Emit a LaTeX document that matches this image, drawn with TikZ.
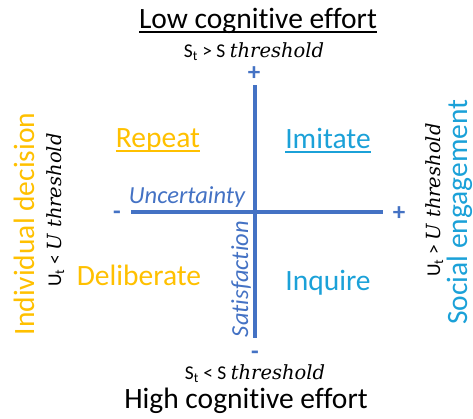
\documentclass[tikz,border=0pt]{standalone}
\usepackage{fontspec}
\setmainfont[Ligatures=NoCommon]{Carlito}
\newfontfamily\thrfont[ItalicFont={DejaVu Serif Italic}]{DejaVu Serif}
\newcommand{\ulbar}[1]{\setbox0\hbox{#1}\rlap{\copy0}\rule[-5pt]{\wd0}{1.8pt}}
\newcommand{\thr}[1]{{\thrfont\itshape #1}}
\usetikzlibrary{positioning}
\definecolor{axisblue}{HTML}{4472C4}
\definecolor{gold}{HTML}{FFC000}
\definecolor{skyblue}{HTML}{1BA1D8}
\tikzset{
  axis/.style={draw=axisblue, line width=3.5pt},
  sign/.style={text=axisblue, inner sep=0pt, font=\fontsize{25}{27}\selectfont\bfseries},
  big/.style={inner sep=0pt, font=\fontsize{29.5}{31}\selectfont},
  cond/.style={inner sep=0pt, font=\fontsize{19.5}{21}\selectfont},
  axlabel/.style={inner sep=0pt, text=axisblue, font=\fontsize{24.5}{26}\selectfont\itshape},
}

\begin{document}
\begin{tikzpicture}[x=1pt, y=-1pt]
    \useasboundingbox (0,0) rectangle (473,418);
    \node[big, anchor=base] (low) at (258,28) {\ulbar{Low cognitive effort}};
    \node[cond, anchor=base] (stTop) at (254,57) {S\textsubscript{t} > S \thr{threshold}};
    \node[big, anchor=base] (high) at (246,408) {High cognitive effort};
    \node[cond, anchor=base] (stBot) at (255,379) {S\textsubscript{t} < S \thr{threshold}};
    \node[sign] (plusTop) at (254,74) {+};
    \node[sign] (minusBot) at (255,355) {-};
    \node[sign] (minusLeft) at (117,215) {-};
    \node[sign] (plusRight) at (399,214) {+};
    \coordinate (vTop) at (255,85);
    \coordinate (vBot) at (255,338);
    \coordinate (hLeft) at (131,212);
    \coordinate (hRight) at (383,212);
    \draw[axis] (vTop) -- (vBot);
    \draw[axis] (hLeft) -- (hRight);
    \node[axlabel, anchor=base] (uncert) at (187,203) {Uncertainty};
    \node[axlabel, rotate=90, anchor=base] (satisf) at (248,279) {Satisfaction};
    \node[big, text=gold, anchor=base] (repeat) at (158,147) {\ulbar{Repeat}};
    \node[big, text=skyblue, anchor=base] (imitate) at (328,148) {\ulbar{Imitate}};
    \node[big, text=gold, anchor=base] (deliberate) at (139,285) {Deliberate};
    \node[big, text=skyblue, anchor=base] (inquire) at (328,290) {Inquire};
    \node[big, text=gold, rotate=90, anchor=base] (indiv) at (34,224) {Individual decision};
    \node[cond, rotate=90, anchor=base] (utLow) at (61,210) {U\textsubscript{t} < \thr{U threshold}};
    \node[big, text=skyblue, rotate=90, anchor=base] (social) at (467,212) {Social engagement};
    \node[cond, rotate=90, anchor=base] (utHigh) at (440,200) {U\textsubscript{t} > \thr{U threshold}};
\end{tikzpicture}
\end{document}
